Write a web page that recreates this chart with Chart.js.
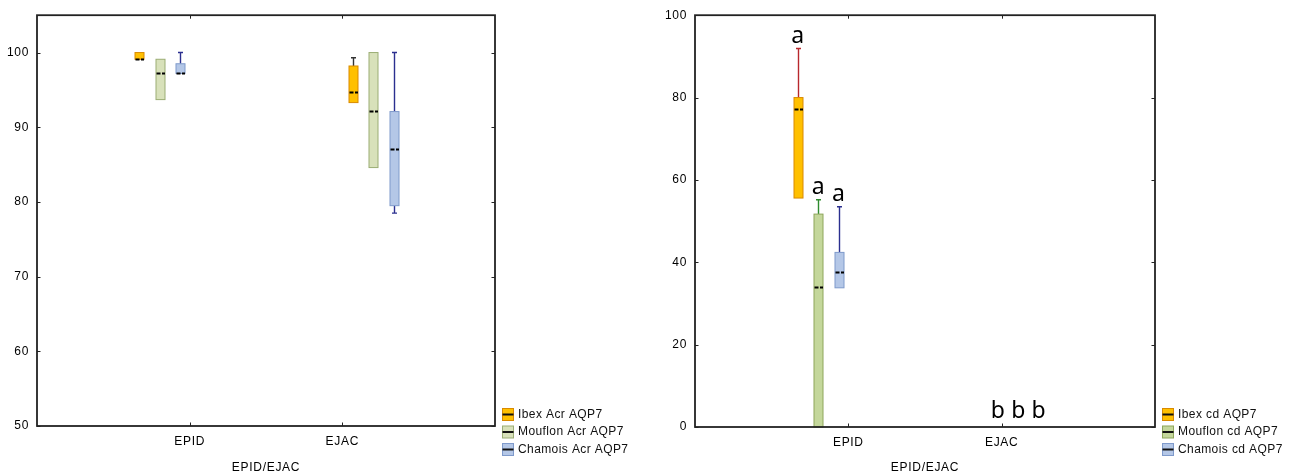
<!DOCTYPE html>
<html>
<head>
<meta charset="utf-8">
<script src="https://cdn.jsdelivr.net/npm/chart.js@4.4.1/dist/chart.umd.min.js"></script>
<style>
  body { margin: 0; background: #fff; }
  #wrap { position: relative; width: 1295px; height: 475px; }
  canvas { position: absolute; top: 0; }
</style>
</head>
<body>
<div id="wrap">
  <canvas id="acrChart" width="650" height="475" style="left:0"></canvas>
  <canvas id="cdChart" width="645" height="475" style="left:650px"></canvas>
</div>
<script>
// x categories and axis title
const categories = ["EPID", "EJAC"];
const axisTitle = "EPID/EJAC";

// left panel (Acr AQP7) - per category: [min, q1, median, q3, max]
const acrLabels = ["Ibex Acr AQP7", "Mouflon Acr AQP7", "Chamois Acr AQP7"];
const acrIbex = [[99.1, 99.1, 99.2, 100, 100], [93.3, 93.3, 94.7, 98.2, 99.3]];
const acrMouflon = [[93.7, 93.7, 97.3, 99.1, 99.1], [84.6, 84.6, 92.2, 100, 100]];
const acrChamois = [[97.2, 97.2, 97.3, 98.5, 100], [78.5, 79.5, 87.1, 92.1, 100]];
const acrTicks = [50, 60, 70, 80, 90, 100];

// right panel (cd AQP7)
const cdLabels = ["Ibex cd AQP7", "Mouflon cd AQP7", "Chamois cd AQP7"];
const cdIbex = [[55.6, 55.6, 77.2, 80, 91.9], [0, 0, 0, 0, 0]];
const cdMouflon = [[0, 0, 33.9, 51.7, 55.2], [0, 0, 0, 0, 0]];
const cdChamois = [[33.8, 33.8, 37.6, 42.4, 53.5], [0, 0, 0, 0, 0]];
const cdLetters = [["a", "b"], ["a", "b"], ["a", "b"]];
const cdTicks = [0, 20, 40, 60, 80, 100];

// placement of boxes around each category (x units)
const groupShift = [-0.33, 0.07];
const seriesStep = 0.133;
const letterNudge = [0, -0.095];

const txtFont = "'Liberation Sans', Arial, sans-serif";
const txtColor = "#000";

const boxPlugin = {
    id: "boxes",
    beforeDraw(chart) {
        chart.ctx.letterSpacing = "0.7px";
    },
    afterDatasetsDraw(chart) {
        const ctx = chart.ctx;
        const xs = chart.scales.x, ys = chart.scales.y;
        const area = chart.chartArea;
        ctx.save();
        ctx.letterSpacing = "0px";

        chart.data.datasets.forEach((ds, i) => {
            ds.stats.forEach((s, j) => {
                const [mn, q1, md, q3, mx] = s;
                const cx = Math.round(xs.getPixelForValue(j + 1 + groupShift[j] + i * seriesStep)) + 0.5;
                const hw = 4.5;
                if (mx !== mn) {
                    // whiskers
                    ctx.strokeStyle = ds.whisker;
                    ctx.lineWidth = 1.4;
                    ctx.setLineDash([]);
                    [[q3, mx], [q1, mn]].forEach(([a, b]) => {
                        if (a === b) return;
                        const ya = ys.getPixelForValue(a), yb = ys.getPixelForValue(b);
                        ctx.beginPath();
                        ctx.moveTo(cx, ya);
                        ctx.lineTo(cx, yb);
                        ctx.moveTo(cx - 2.5, yb);
                        ctx.lineTo(cx + 2.5, yb);
                        ctx.stroke();
                    });
                    // box
                    const yTop = ys.getPixelForValue(q3), yBot = ys.getPixelForValue(q1);
                    ctx.fillStyle = ds.fill;
                    ctx.strokeStyle = ds.edge;
                    ctx.lineWidth = 1;
                    ctx.fillRect(cx - hw, yTop, hw * 2, yBot - yTop);
                    ctx.strokeRect(cx - hw, yTop, hw * 2, yBot - yTop);
                    // median
                    const ym = Math.round(ys.getPixelForValue(md)) + 0.5;
                    ctx.strokeStyle = "#000";
                    ctx.lineWidth = 2;
                    ctx.setLineDash([4, 1.5]);
                    ctx.beginPath();
                    ctx.moveTo(cx - hw + 0.5, ym);
                    ctx.lineTo(cx + hw, ym);
                    ctx.stroke();
                    ctx.setLineDash([]);
                }
                // significance letters
                if (ds.letters) {
                    const lx = xs.getPixelForValue(j + 1 + groupShift[j] + i * seriesStep + letterNudge[j]);
                    const ly = ys.getPixelForValue(mx) - (mx === mn ? 9 : 6);
                    ctx.fillStyle = "#000";
                    ctx.font = "23px 'Noto Sans', 'Open Sans', sans-serif";
                    ctx.textAlign = "center";
                    ctx.textBaseline = "alphabetic";
                    ctx.fillText(ds.letters[j], lx, ly);
                }
            });
        });

        // frame with inward ticks
        ctx.strokeStyle = "#222";
        ctx.lineWidth = 1.8;
        ctx.strokeRect(area.left, area.top, area.right - area.left, area.bottom - area.top);
        ctx.lineWidth = 1;
        ctx.beginPath();
        ys.ticks.forEach(t => {
            const py = Math.round(ys.getPixelForValue(t.value)) + 0.5;
            ctx.moveTo(area.left, py); ctx.lineTo(area.left + 3.5, py);
            ctx.moveTo(area.right, py); ctx.lineTo(area.right - 3.5, py);
        });
        xs.ticks.forEach(t => {
            const px = Math.round(xs.getPixelForValue(t.value)) + 0.5;
            ctx.moveTo(px, area.bottom); ctx.lineTo(px, area.bottom - 3.5);
            ctx.moveTo(px, area.top); ctx.lineTo(px, area.top + 3.5);
        });
        ctx.stroke();

        // legend, bottom right outside the frame
        ctx.font = "12px " + txtFont;
        ctx.letterSpacing = "0.4px";
        ctx.textAlign = "left";
        ctx.textBaseline = "middle";
        chart.data.datasets.forEach((ds, i) => {
            const bx = area.right + 7.5, by = 414.5 + i * 17.5;
            ctx.fillStyle = ds.fill;
            ctx.strokeStyle = ds.edge;
            ctx.lineWidth = 1;
            ctx.fillRect(bx, by - 6, 11, 12);
            ctx.strokeRect(bx, by - 6, 11, 12);
            ctx.strokeStyle = "#111";
            ctx.lineWidth = 2;
            ctx.beginPath();
            ctx.moveTo(bx, by); ctx.lineTo(bx + 11, by);
            ctx.stroke();
            ctx.fillStyle = "#111";
            ctx.fillText(ds.label, bx + 15.5, by);
        });
        ctx.restore();
    }
};

function makeChart(id, labels, stats, colors, yTicks, yMin, yMax, pad, yWidth, xHeight, letters) {
    const datasets = labels.map((lab, i) => ({
        label: lab,
        data: [],
        stats: stats[i],
        fill: colors[i].fill,
        edge: colors[i].edge,
        whisker: colors[i].whisker,
        letters: letters ? letters[i] : null
    }));
    return new Chart(document.getElementById(id).getContext("2d"), {
        type: "scatter",
        data: { datasets: datasets },
        options: {
            responsive: false,
            animation: false,
            layout: { padding: pad },
            plugins: { legend: { display: false }, tooltip: { enabled: false } },
            scales: {
                x: {
                    type: "linear",
                    min: 0,
                    max: 3,
                    grid: { display: false, drawTicks: false },
                    border: { display: false },
                    afterBuildTicks: s => { s.ticks = categories.map((c, i) => ({ value: i + 1 })); },
                    afterFit: s => { s.height = xHeight; },
                    ticks: {
                        callback: v => categories[v - 1],
                        padding: 8,
                        maxRotation: 0,
                        autoSkip: false,
                        color: txtColor,
                        font: { family: txtFont, size: 12 }
                    },
                    title: {
                        display: true,
                        text: axisTitle,
                        padding: { top: 0, bottom: 0 },
                        color: txtColor,
                        font: { family: txtFont, size: 12 }
                    }
                },
                y: {
                    min: yMin,
                    max: yMax,
                    grid: { display: false, drawTicks: false },
                    border: { display: false },
                    afterBuildTicks: s => { s.ticks = yTicks.map(v => ({ value: v })); },
                    afterFit: s => { s.width = yWidth; },
                    ticks: {
                        padding: 8,
                        color: txtColor,
                        font: { family: txtFont, size: 12 }
                    }
                }
            }
        },
        plugins: [boxPlugin]
    });
}

const acrColors = [
    { fill: "#FFC000", edge: "#D98A00", whisker: "#333333" },
    { fill: "#D8E1BA", edge: "#9BAD74", whisker: "#2E7D32" },
    { fill: "#B4C7E7", edge: "#7F9ACB", whisker: "#2B2F8F" }
];
const cdColors = [
    { fill: "#FFC000", edge: "#D98A00", whisker: "#B8282D" },
    { fill: "#C4D79B", edge: "#8EA65A", whisker: "#2E8B2E" },
    { fill: "#B4C7E7", edge: "#7F9ACB", whisker: "#2B2F8F" }
];

makeChart("acrChart", acrLabels, [acrIbex, acrMouflon, acrChamois], acrColors,
    acrTicks, 50, 105, { left: 0, right: 155, top: 11, bottom: 0 }, 37, 49, null);
makeChart("cdChart", cdLabels, [cdIbex, cdMouflon, cdChamois], cdColors,
    cdTicks, 0, 100, { left: 0, right: 140, top: 14, bottom: 0 }, 45, 48, cdLetters);
</script>
</body>
</html>
